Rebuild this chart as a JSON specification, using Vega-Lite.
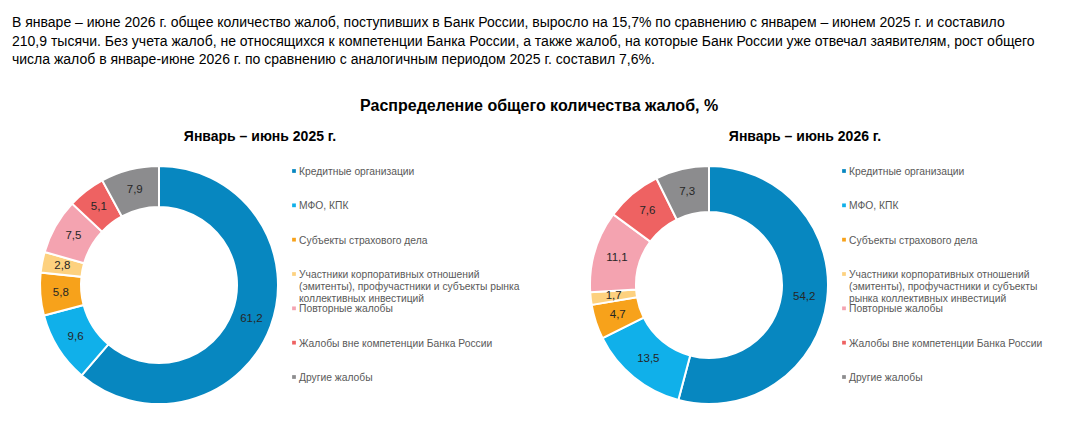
{
  "$schema": "https://vega.github.io/schema/vega-lite/v6.json",
  "background": "white",
  "padding": {"left": 12, "top": 16, "right": 0, "bottom": 0},
  "config": {
    "font": "Liberation Sans",
    "view": {"stroke": null},
    "title": {"color": "#000000"}
  },
  "title": {
    "text": [
      "В январе – июне 2026 г. общее количество жалоб, поступивших в Банк России, выросло на 15,7% по сравнению с январем – июнем 2025 г. и составило",
      "210,9 тысячи. Без учета жалоб, не относящихся к компетенции Банка России, а также жалоб, на которые Банк России уже отвечал заявителям, рост общего",
      "числа жалоб в январе-июне 2026 г. по сравнению с аналогичным периодом 2025 г. составил 7,6%."
    ],
    "anchor": "start",
    "frame": "group",
    "dx": -28,
    "fontSize": 14,
    "fontWeight": "normal",
    "lineHeight": 18.5,
    "offset": 31
  },
  "datasets": {
    "y2025": [
      {"i": 1, "cat": "Кредитные организации", "label": "Кредитные организации", "value": 61.2, "txt": "61,2"},
      {"i": 2, "cat": "МФО, КПК", "label": "МФО, КПК", "value": 9.6, "txt": "9,6"},
      {"i": 3, "cat": "Субъекты страхового дела", "label": "Субъекты страхового дела", "value": 5.8, "txt": "5,8"},
      {"i": 4, "cat": "Участники", "label": "Участники корпоративных отношений\n(эмитенты), профучастники и субъекты рынка\nколлективных инвестиций", "value": 2.8, "txt": "2,8"},
      {"i": 5, "cat": "Повторные жалобы", "label": "Повторные жалобы", "value": 7.5, "txt": "7,5"},
      {"i": 6, "cat": "Жалобы вне компетенции Банка России", "label": "Жалобы вне компетенции Банка России", "value": 5.1, "txt": "5,1"},
      {"i": 7, "cat": "Другие жалобы", "label": "Другие жалобы", "value": 7.9, "txt": "7,9"}
    ],
    "y2026": [
      {"i": 1, "cat": "Кредитные организации", "label": "Кредитные организации", "value": 54.2, "txt": "54,2"},
      {"i": 2, "cat": "МФО, КПК", "label": "МФО, КПК", "value": 13.5, "txt": "13,5"},
      {"i": 3, "cat": "Субъекты страхового дела", "label": "Субъекты страхового дела", "value": 4.7, "txt": "4,7"},
      {"i": 4, "cat": "Участники", "label": "Участники корпоративных отношений\n(эмитенты), профучастники и субъекты\nрынка коллективных инвестиций", "value": 1.7, "txt": "1,7"},
      {"i": 5, "cat": "Повторные жалобы", "label": "Повторные жалобы", "value": 11.1, "txt": "11,1"},
      {"i": 6, "cat": "Жалобы вне компетенции Банка России", "label": "Жалобы вне компетенции Банка России", "value": 7.6, "txt": "7,6"},
      {"i": 7, "cat": "Другие жалобы", "label": "Другие жалобы", "value": 7.3, "txt": "7,3"}
    ]
  },
  "vconcat": [
    {
      "title": {
        "text": "Распределение общего количества жалоб, %",
        "anchor": "middle",
        "frame": "bounds",
        "fontSize": 16,
        "fontWeight": "bold",
        "offset": 16
      },
      "spacing": 16,
      "bounds": "flush",
      "resolve": {"scale": {"theta": "independent", "y": "independent", "x": "independent"}},
      "hconcat": [
        {
          "width": 238,
          "height": 238,
          "data": {"name": "y2025"},
          "title": {"text": "Январь – июнь 2025 г.", "fontSize": 14, "fontWeight": "bold", "anchor": "middle", "frame": "group", "dx": 101, "offset": 18},
          "encoding": {
            "theta": {"field": "value", "type": "quantitative", "stack": true},
            "order": {"field": "i", "type": "quantitative"},
            "color": {
              "field": "cat",
              "type": "nominal",
              "scale": {
                "domain": ["Кредитные организации", "МФО, КПК", "Субъекты страхового дела", "Участники", "Повторные жалобы", "Жалобы вне компетенции Банка России", "Другие жалобы"],
                "range": ["#0787C0", "#10B0EA", "#F7A21B", "#FDD17F", "#F4A3B0", "#EE6262", "#8C8C8E"]
              },
              "legend": null
            }
          },
          "layer": [
            {"mark": {"type": "arc", "innerRadius": 78, "outerRadius": 119, "stroke": "white", "strokeWidth": 2}},
            {
              "mark": {"type": "text", "radius": 98.5, "fontSize": 11.5},
              "encoding": {"text": {"field": "txt"}, "color": {"value": "#262626"}}
            }
          ]
        },
        {
          "width": 280,
          "height": 238,
          "data": {"name": "y2025"},
          "encoding": {
            "y": {
              "field": "cat",
              "type": "nominal",
              "scale": {
                "type": "point",
                "padding": 0,
                "domain": ["Кредитные организации", "МФО, КПК", "Субъекты страхового дела", "Участники", "Повторные жалобы", "Жалобы вне компетенции Банка России", "Другие жалобы"],
                "range": [5, 211]
              },
              "axis": null
            },
            "x": {"datum": 0, "type": "quantitative", "scale": {"domain": [0, 1]}, "axis": null}
          },
          "layer": [
            {
              "mark": {"type": "point", "shape": "square", "filled": true, "size": 14, "opacity": 1},
              "encoding": {"color": {"field": "cat", "type": "nominal", "legend": null}}
            },
            {
              "mark": {"type": "text", "align": "left", "baseline": "alphabetic", "dx": 5, "dy": 4, "fontSize": 10.3, "lineHeight": 12, "lineBreak": "\n", "color": "#595959"},
              "encoding": {"text": {"field": "label"}}
            }
          ]
        },
        {
          "width": 238,
          "height": 238,
          "data": {"name": "y2026"},
          "title": {"text": "Январь – июнь 2026 г.", "fontSize": 14, "fontWeight": "bold", "anchor": "middle", "frame": "group", "dx": 96, "offset": 18},
          "encoding": {
            "theta": {"field": "value", "type": "quantitative", "stack": true},
            "order": {"field": "i", "type": "quantitative"},
            "color": {"field": "cat", "type": "nominal", "legend": null}
          },
          "layer": [
            {"mark": {"type": "arc", "innerRadius": 73, "outerRadius": 119, "stroke": "white", "strokeWidth": 2}},
            {
              "mark": {"type": "text", "radius": 96, "fontSize": 11.5},
              "encoding": {"text": {"field": "txt"}, "color": {"value": "#262626"}}
            }
          ]
        },
        {
          "width": 196,
          "height": 238,
          "data": {"name": "y2026"},
          "encoding": {
            "y": {
              "field": "cat",
              "type": "nominal",
              "scale": {
                "type": "point",
                "padding": 0,
                "domain": ["Кредитные организации", "МФО, КПК", "Субъекты страхового дела", "Участники", "Повторные жалобы", "Жалобы вне компетенции Банка России", "Другие жалобы"],
                "range": [5, 211]
              },
              "axis": null
            },
            "x": {"datum": 0, "type": "quantitative", "scale": {"domain": [0, 1]}, "axis": null}
          },
          "layer": [
            {
              "mark": {"type": "point", "shape": "square", "filled": true, "size": 14, "opacity": 1},
              "encoding": {"color": {"field": "cat", "type": "nominal", "legend": null}}
            },
            {
              "mark": {"type": "text", "align": "left", "baseline": "alphabetic", "dx": 5, "dy": 4, "fontSize": 10.3, "lineHeight": 12, "lineBreak": "\n", "color": "#595959"},
              "encoding": {"text": {"field": "label"}}
            }
          ]
        }
      ]
    }
  ]
}
